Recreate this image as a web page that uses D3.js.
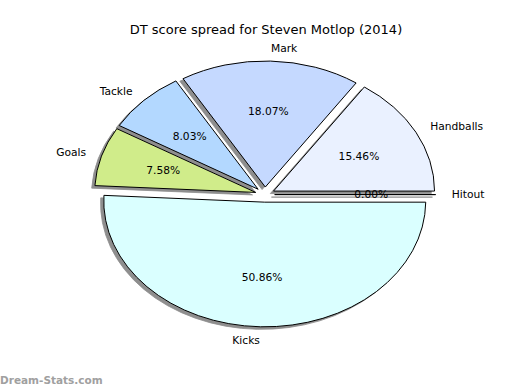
<!DOCTYPE html>
<html>
<head>
<meta charset="utf-8">
<script src="https://cdn.jsdelivr.net/npm/d3@7"></script>
<style>
  body { margin: 0; background: #fff; }
  text { font-family: "DejaVu Sans", sans-serif; }
</style>
</head>
<body>
<div id="chart"></div>
<script>
    var labels = ["Handballs", "Mark", "Tackle", "Goals", "Kicks", "Hitout"];
    var values = [15.46, 18.07, 8.03, 7.58, 50.86, 0.00];
    var colors = ["#eaf1ff", "#c5d9ff", "#b3d8ff", "#d0ec8a", "#daffff", "#ffe0e0"];
    var explode = 0.06;

    var W = 520, H = 390;
    var cx = 265, cy = 194.6, rx = 161, ry = 126;

    var svg = d3.select("#chart").append("svg")
      .attr("width", W).attr("height", H);

    // data units -> pixels, pie radius is 1
    var x = d3.scaleLinear().domain([-1, 1]).range([cx - rx, cx + rx]);
    var y = d3.scaleLinear().domain([-1, 1]).range([cy + ry, cy - ry]);

    // matplotlib style: start at 3 o'clock, counterclockwise
    var pie = d3.pie().sort(null)
      .startAngle(Math.PI / 2).endAngle(Math.PI / 2 - 2 * Math.PI);
    var arcs = pie(values);
    var arc = d3.arc().innerRadius(0).outerRadius(1);

    arcs.forEach(function (a, i) {
      // convert d3 angle back to math angle
      var mid = Math.PI / 2 - (a.startAngle + a.endAngle) / 2;
      a.mid = mid;
      a.ox = explode * Math.cos(mid);
      a.oy = explode * Math.sin(mid);
      a.label = labels[i];
      a.color = colors[i];
    });

    function place(a, dx, dy) {
      return "translate(" + x(a.ox + dx) + "," + y(a.oy + dy) + ") scale(" + rx + "," + ry + ")";
    }

    // shadows
    svg.append("g").selectAll("path")
      .data(arcs).enter().append("path")
      .attr("d", arc)
      .attr("transform", function (a) { return place(a, -0.02, -0.02); })
      .attr("fill", "#8e8e8e")
      .attr("stroke", "#8e8e8e")
      .attr("stroke-width", 0.8)
      .attr("vector-effect", "non-scaling-stroke");

    // wedges
    svg.append("g").selectAll("path")
      .data(arcs).enter().append("path")
      .attr("d", arc)
      .attr("transform", function (a) { return place(a, 0, 0); })
      .attr("fill", function (a) { return a.color; })
      .attr("stroke", "#000")
      .attr("stroke-width", 1)
      .attr("vector-effect", "non-scaling-stroke");

    // outer labels
    svg.append("g").selectAll("text")
      .data(arcs).enter().append("text")
      .attr("x", function (a) { return x(a.ox + 1.1 * Math.cos(a.mid)); })
      .attr("y", function (a) { return y(a.oy + 1.1 * Math.sin(a.mid)); })
      .attr("dy", "0.35em")
      .style("text-anchor", function (a) { return Math.cos(a.mid) > 0 ? "start" : "end"; })
      .style("font-size", "10.7px")
      .text(function (a) { return a.label; });

    // percentages
    svg.append("g").selectAll("text")
      .data(arcs).enter().append("text")
      .attr("x", function (a) { return x(a.ox + 0.6 * Math.cos(a.mid)); })
      .attr("y", function (a) { return y(a.oy + 0.6 * Math.sin(a.mid)); })
      .attr("dy", "0.35em")
      .style("text-anchor", "middle")
      .style("font-size", "10.7px")
      .text(function (a) { return a.value.toFixed(2) + "%"; });

    svg.append("text")
      .attr("x", 266)
      .attr("y", 34)
      .style("text-anchor", "middle")
      .style("font-size", "13px")
      .text("DT score spread for Steven Motlop (2014)");

    svg.append("text")
      .attr("x", 0)
      .attr("y", 384)
      .style("font-size", "10.5px")
      .style("font-weight", "bold")
      .style("fill", "#a0a0a0")
      .text("Dream-Stats.com");
</script>
</body>
</html>
